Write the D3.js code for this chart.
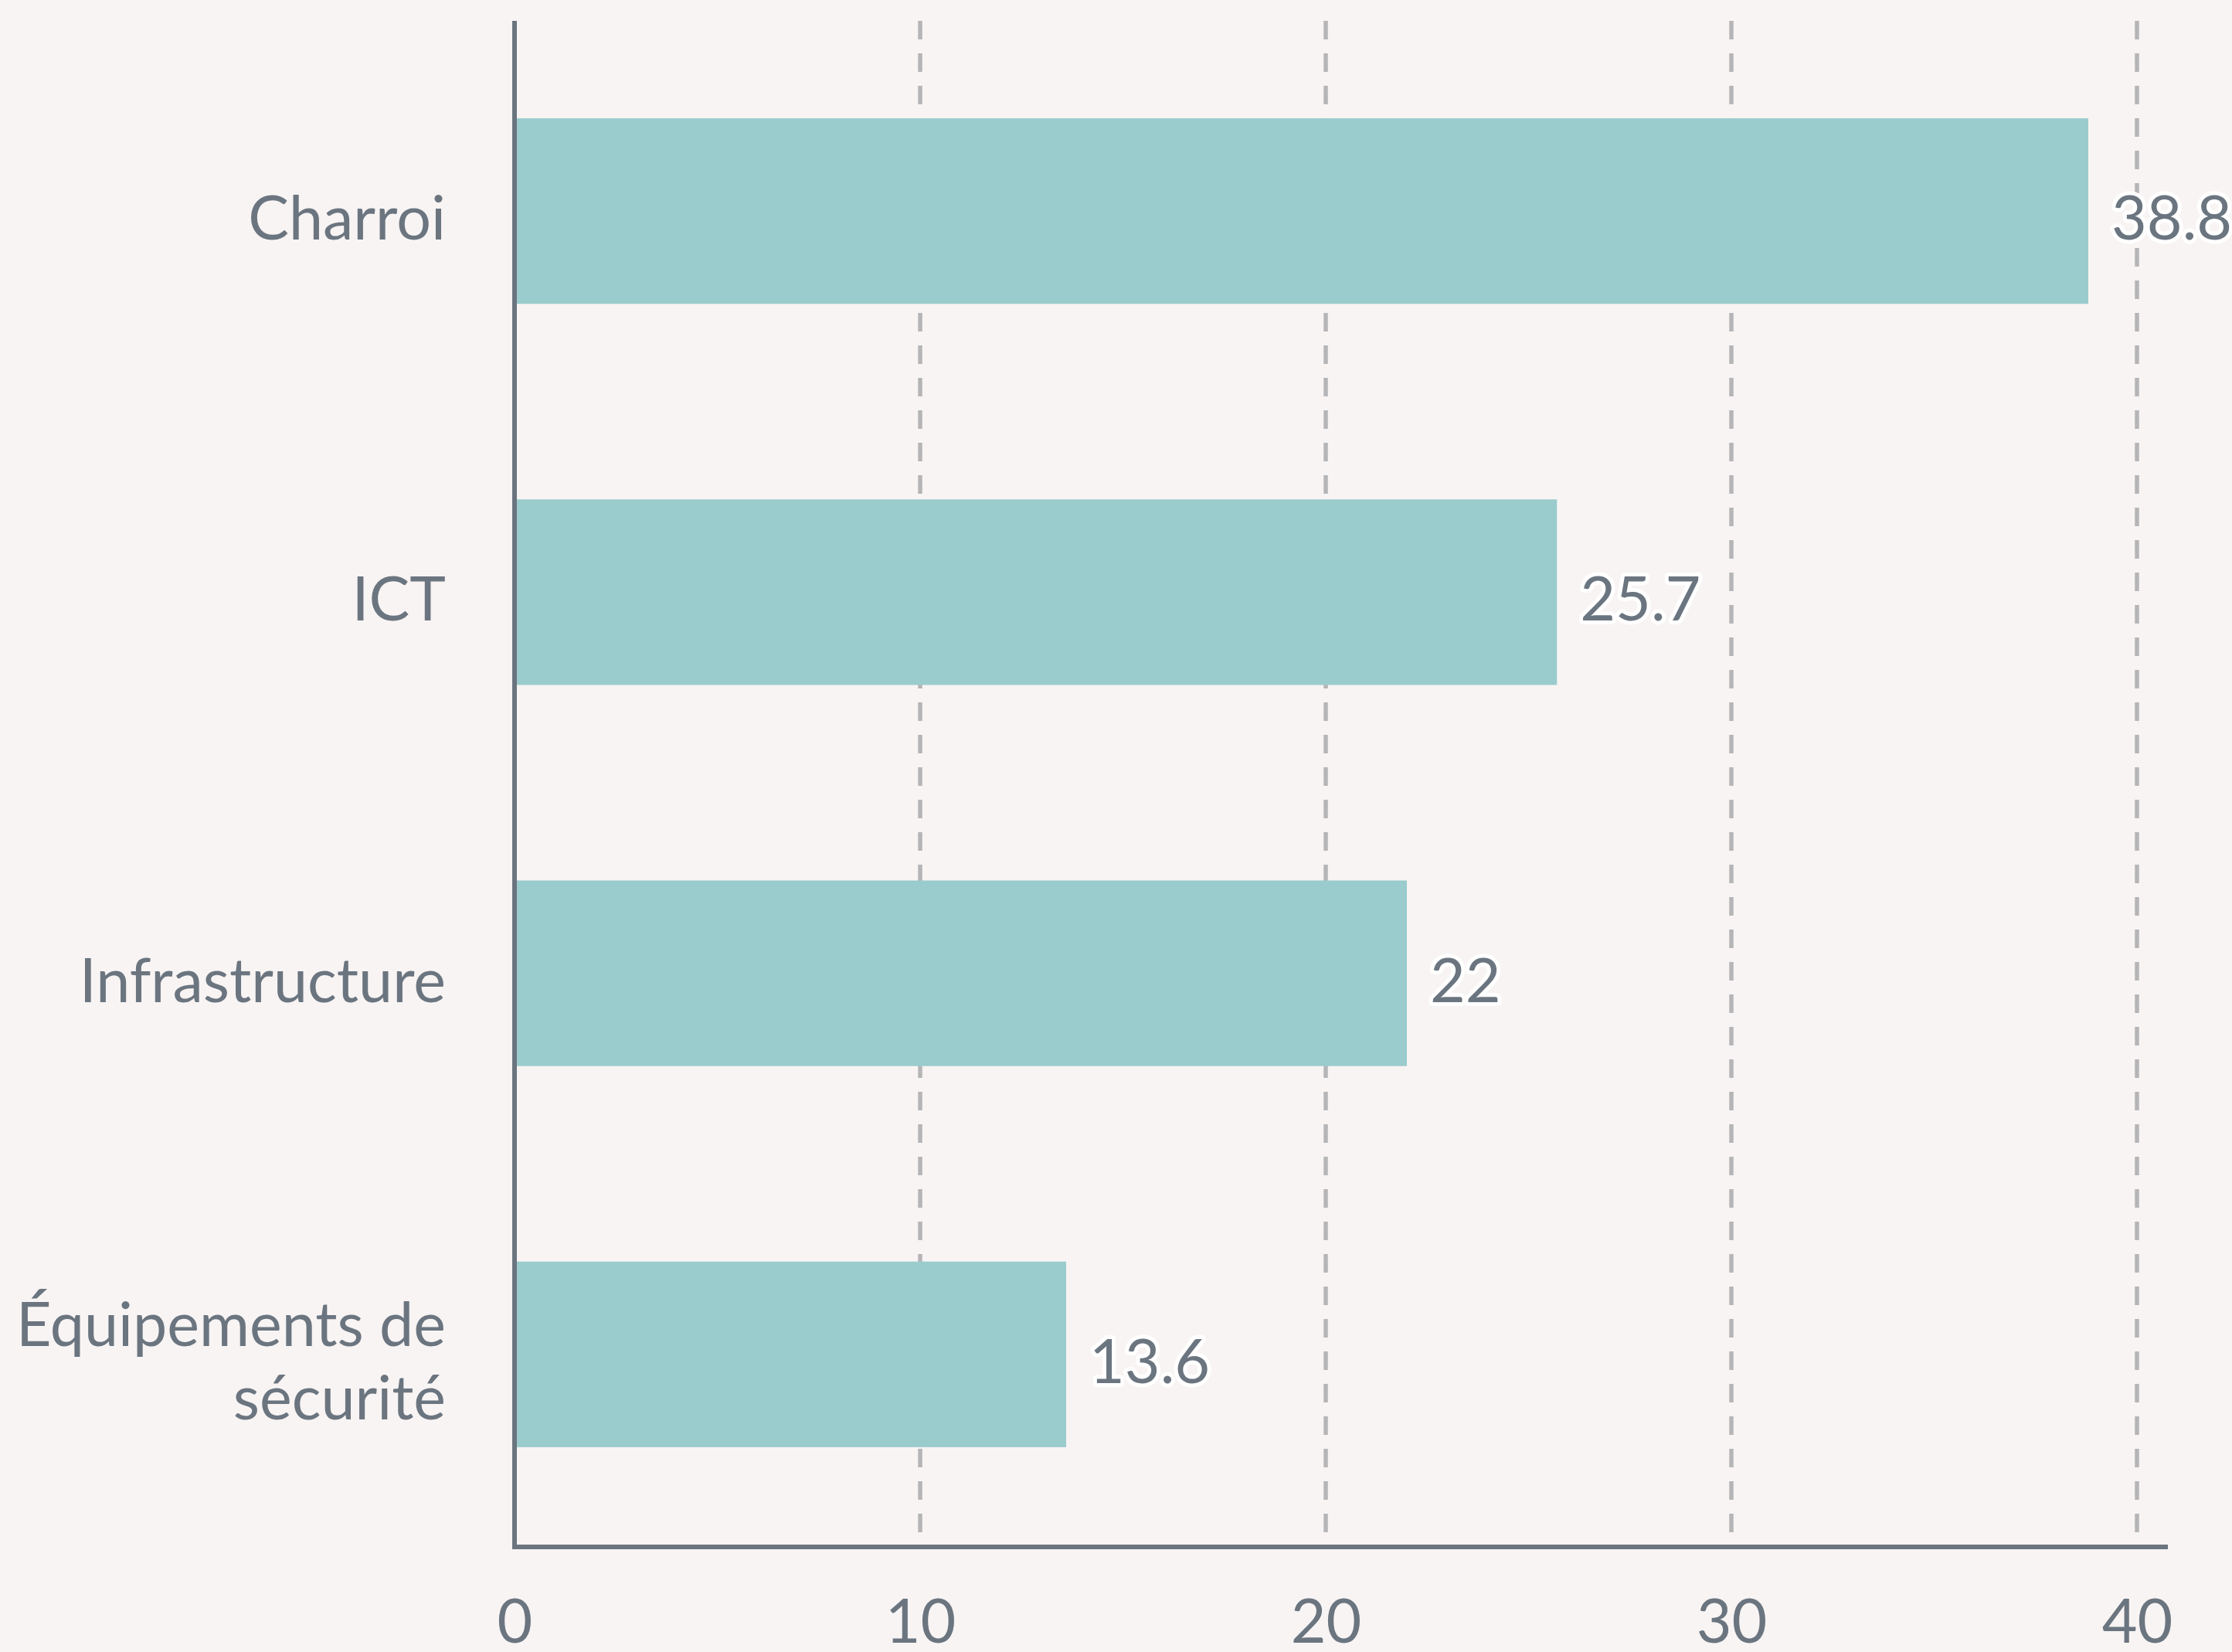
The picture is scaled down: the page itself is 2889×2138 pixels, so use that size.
<!DOCTYPE html>
<html>
<head>
<meta charset="utf-8">
<script src="https://cdn.jsdelivr.net/npm/d3@7"></script>
<style>
  html, body { margin: 0; padding: 0; background: #f8f4f3; }
  svg { display: block; }
  text { font-family: Lato, "Noto Sans", sans-serif; }
</style>
</head>
<body>
<script>
// ---- data ----
const categories = ["Charroi", "ICT", "Infrastructure", "Équipements de sécurité"];
const values = [38.8, 25.7, 22, 13.6];
const valueLabels = ["38.8", "25.7", "22", "13.6"];
const tickValues = [0, 10, 20, 30, 40];
const tickLabels = ["0", "10", "20", "30", "40"];

// ---- layout ----
const W = 2889, H = 2138;
const textColor = "#6b7580";
const axisColor = "#6b7580";
const barColor = "#9bcccd";
const gridColor = "#b5b5b8";
const fontSize = 79;

const svg = d3.select("body").append("svg")
  .attr("width", W).attr("height", H)
  .style("background", "#f8f4f3");

const x = d3.scaleLinear().domain([0, 40]).range([666, 2766]);
const y = d3.scaleBand().domain(categories).range([27, 1999])
  .paddingInner(0.513).paddingOuter(0.2556);

const axisY = 2002;

// gridlines
svg.append("g").selectAll("line")
  .data(tickValues.filter(d => d > 0))
  .join("line")
  .attr("x1", d => x(d)).attr("x2", d => x(d))
  .attr("y1", 27).attr("y2", 1999)
  .attr("stroke", gridColor)
  .attr("stroke-width", 5.5)
  .attr("stroke-dasharray", "24,18");

// bars
svg.append("g").selectAll("rect")
  .data(categories)
  .join("rect")
  .attr("x", x(0))
  .attr("y", d => y(d))
  .attr("width", (d, i) => x(values[i]) - x(0))
  .attr("height", y.bandwidth())
  .attr("fill", barColor);

// y axis line
svg.append("line")
  .attr("x1", x(0)).attr("x2", x(0))
  .attr("y1", 27).attr("y2", axisY + 3)
  .attr("stroke", axisColor).attr("stroke-width", 6);

// x axis
const xAxis = d3.axisBottom(x)
  .tickValues(tickValues)
  .tickFormat((d, i) => tickLabels[i])
  .tickSize(0)
  .tickPadding(68);
const gx = svg.append("g").attr("transform", `translate(0,${axisY})`).call(xAxis);
gx.select(".domain").remove();
gx.selectAll("text")
  .attr("font-family", "Lato, 'Noto Sans', sans-serif")
  .attr("font-size", fontSize)
  .attr("fill", textColor);
svg.append("line")
  .attr("x1", x(0) - 3).attr("x2", x(40) + 40)
  .attr("y1", axisY).attr("y2", axisY)
  .attr("stroke", axisColor).attr("stroke-width", 6);

// category labels (wrapped)
const labelRight = x(0) - 89;
const lineH = 95;
const catG = svg.append("g");
categories.forEach(cat => {
  const cy = y(cat) + y.bandwidth() / 2;
  const t = catG.append("text")
    .attr("text-anchor", "end")
    .attr("font-size", fontSize)
    .attr("fill", textColor);
  // wrap to max width
  const words = cat.split(" ");
  const lines = [];
  let cur = [];
  const probe = svg.append("text").attr("font-size", fontSize);
  words.forEach(w => {
    const test = cur.concat([w]).join(" ");
    probe.text(test);
    if (cur.length && probe.node().getComputedTextLength() > 560) {
      lines.push(cur.join(" "));
      cur = [w];
    } else {
      cur.push(w);
    }
  });
  lines.push(cur.join(" "));
  probe.remove();
  const first = cy + 37 - (lines.length - 1) * lineH / 2;
  lines.forEach((ln, k) => {
    t.append("tspan")
      .attr("x", labelRight)
      .attr("y", first + k * lineH)
      .text(ln);
  });
});

// value labels with white halo
svg.append("g").selectAll("text")
  .data(categories)
  .join("text")
  .attr("x", (d, i) => x(values[i]) + 30)
  .attr("y", d => y(d) + y.bandwidth() / 2 + 37)
  .attr("font-size", fontSize)
  .attr("fill", textColor)
  .attr("stroke", "#ffffff")
  .attr("stroke-width", 10)
  .attr("stroke-linejoin", "round")
  .attr("paint-order", "stroke")
  .text((d, i) => valueLabels[i]);
</script>
</body>
</html>
